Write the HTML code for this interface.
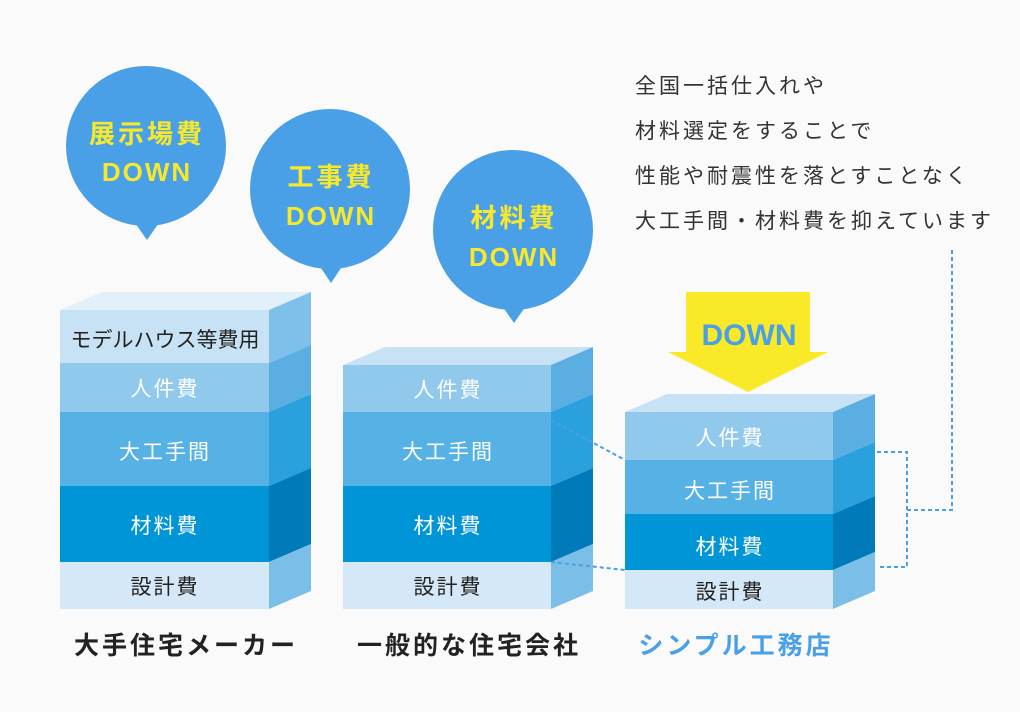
<!DOCTYPE html>
<html><head><meta charset="utf-8"><style>
html,body{margin:0;padding:0;background:#fafafa}
svg{display:block}
text{font-family:"Liberation Sans","Noto Sans CJK JP",sans-serif}
</style></head><body>
<svg width="1020" height="712" viewBox="0 0 1020 712" xmlns="http://www.w3.org/2000/svg">
<rect width="1020" height="712" fill="#fafafa"/>
<!-- bubbles -->
<g fill="#4aa0e6">
<circle cx="146" cy="146" r="80"/><polygon points="133,220 161,220 147,240"/>
<circle cx="330" cy="189" r="80"/><polygon points="317,262 345,262 331,283"/>
<circle cx="513" cy="230" r="80"/><polygon points="500,303 528,303 514,323"/>
</g>
<g fill="#f7e82e" font-weight="bold" font-size="26" text-anchor="middle">
<text x="147" y="143" letter-spacing="3">展示場費</text><text x="147" y="181" letter-spacing="2">DOWN</text>
<text x="331" y="186" letter-spacing="3">工事費</text><text x="331" y="225" letter-spacing="2">DOWN</text>
<text x="514" y="227" letter-spacing="3">材料費</text><text x="514" y="266" letter-spacing="2">DOWN</text>
</g>
<!-- arrow -->
<polygon points="686,292 810,292 810,352 828,352 748,392 668,352 686,352" fill="#f9e928"/>
<text x="749" y="345" text-anchor="middle" font-size="30" font-weight="bold" fill="#4aa0e6">DOWN</text>
<!-- box 1 -->
<polygon points="60,310 102,292 311,292 269,310" fill="#e2f0fa"/>
<rect x="60" y="310" width="209" height="53" fill="#c8e2f5"/>
<rect x="60" y="363" width="209" height="49" fill="#91c9ec"/>
<rect x="60" y="412" width="209" height="74" fill="#56b1e5"/>
<rect x="60" y="486" width="209" height="76" fill="#0095d6"/>
<rect x="60" y="562" width="209" height="47" fill="#d5e8f7"/>
<polygon points="269,310 311,292 311,345 269,363" fill="#7ec0ea"/>
<polygon points="269,363 311,345 311,394 269,412" fill="#5aaee2"/>
<polygon points="269,412 311,394 311,468 269,486" fill="#2aa0dc"/>
<polygon points="269,486 311,468 311,544 269,562" fill="#007ab8"/>
<polygon points="269,562 311,544 311,591 269,609" fill="#7bbfe9"/>
<!-- box 2 -->
<polygon points="343,365 385,347 593,347 551,365" fill="#c8e2f5"/>
<rect x="343" y="365" width="208" height="47" fill="#91c9ec"/>
<rect x="343" y="412" width="208" height="74" fill="#56b1e5"/>
<rect x="343" y="486" width="208" height="76" fill="#0095d6"/>
<rect x="343" y="562" width="208" height="47" fill="#d5e8f7"/>
<polygon points="551,365 593,347 593,394 551,412" fill="#5aaee2"/>
<polygon points="551,412 593,394 593,468 551,486" fill="#2aa0dc"/>
<polygon points="551,486 593,468 593,544 551,562" fill="#007ab8"/>
<polygon points="551,562 593,544 593,591 551,609" fill="#7bbfe9"/>
<!-- box 3 -->
<polygon points="625,412 667,394 875,394 833,412" fill="#c8e2f5"/>
<rect x="625" y="412" width="208" height="48" fill="#91c9ec"/>
<rect x="625" y="460" width="208" height="54" fill="#56b1e5"/>
<rect x="625" y="514" width="208" height="56" fill="#0095d6"/>
<rect x="625" y="570" width="208" height="39" fill="#d5e8f7"/>
<polygon points="833,412 875,394 875,442 833,460" fill="#5aaee2"/>
<polygon points="833,460 875,442 875,496 833,514" fill="#2aa0dc"/>
<polygon points="833,514 875,496 875,552 833,570" fill="#007ab8"/>
<polygon points="833,570 875,552 875,591 833,609" fill="#7bbfe9"/>
<!-- dotted lines -->
<g stroke="#4aa0e6" stroke-width="2" stroke-dasharray="4,3" fill="none">
<path d="M551,420 L625,460"/>
<path d="M551,562 L625,570"/>
<path d="M877,452 H907 V567 H877"/>
<path d="M907,510 H952 V248"/>
</g>
<!-- layer labels -->
<g font-size="21" text-anchor="middle" letter-spacing="2">
<text x="165" y="347" fill="#222" letter-spacing="0">モデルハウス等費用</text>
<text x="165" y="396" fill="#fff">人件費</text>
<text x="165" y="459" fill="#fff">大工手間</text>
<text x="165" y="533" fill="#fff">材料費</text>
<text x="165" y="594" fill="#222">設計費</text>
<text x="448" y="397" fill="#fff">人件費</text>
<text x="448" y="459" fill="#fff">大工手間</text>
<text x="448" y="533" fill="#fff">材料費</text>
<text x="448" y="594" fill="#222">設計費</text>
<text x="730" y="445" fill="#fff">人件費</text>
<text x="730" y="498" fill="#fff">大工手間</text>
<text x="730" y="554" fill="#fff">材料費</text>
<text x="730" y="599" fill="#222">設計費</text>
</g>
<!-- bottom labels -->
<g font-size="25" font-weight="bold" text-anchor="middle" letter-spacing="3">
<text x="186" y="654" fill="#222">大手住宅メーカー</text>
<text x="469" y="654" fill="#222">一般的な住宅会社</text>
<text x="736" y="654" fill="#4aa0e6">シンプル工務店</text>
</g>
<!-- right text -->
<g font-size="21" fill="#333" letter-spacing="3">
<text x="635" y="93">全国一括仕入れや</text>
<text x="635" y="138">材料選定をすることで</text>
<text x="635" y="183">性能や耐震性を落とすことなく</text>
<text x="635" y="228">大工手間・材料費を抑えています</text>
</g>
</svg>
</body></html>
